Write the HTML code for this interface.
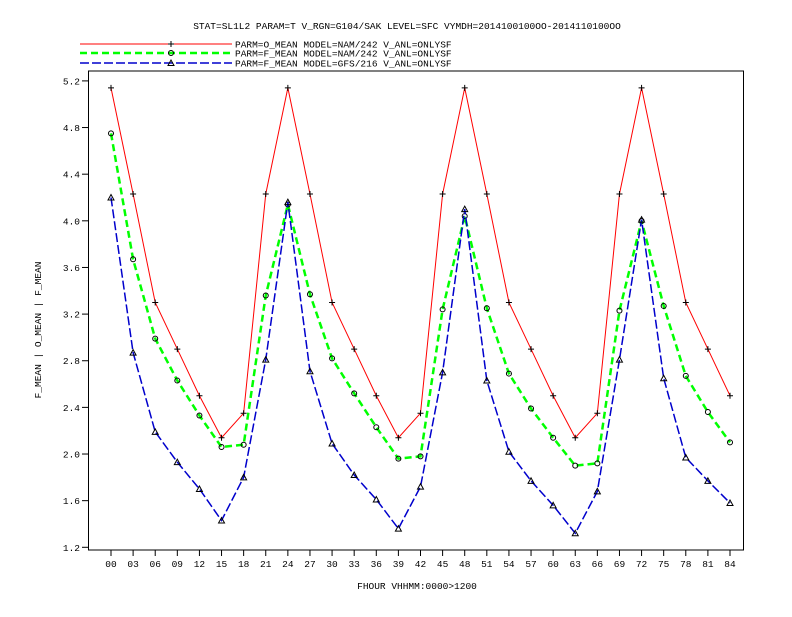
<!DOCTYPE html>
<html><head><meta charset="utf-8"><style>
body{margin:0;background:#fff}
text{font-family:"Liberation Mono",monospace;fill:#000}
</style></head><body>
<svg id="chart" width="792" height="612" xmlns="http://www.w3.org/2000/svg">
<text x="407" y="29" font-size="9.5" text-anchor="middle">STAT=SL1L2 PARAM=T V_RGN=G104/SAK LEVEL=SFC VYMDH=2014100100OO-2014110100OO</text>
<g id="legend"></g>
<rect x="88.5" y="71" width="655" height="479" fill="none" stroke="#000" stroke-width="1"/>
<g id="axes"></g><g id="series"></g>
<text transform="translate(41,330) rotate(-90)" font-size="9.5" text-anchor="middle">F_MEAN | O_MEAN | F_MEAN</text>
<text x="417" y="589" font-size="9.5" text-anchor="middle">FHOUR VHHMM:0000&gt;1200</text>
</svg>
<script>
const categories=["00","03","06","09","12","15","18","21","24","27","30","33","36","39","42","45","48","51","54","57","60","63","66","69","72","75","78","81","84"];
const oMeanNam=[5.14,4.23,3.30,2.90,2.50,2.14,2.35,4.23,5.14,4.23,3.30,2.90,2.50,2.14,2.35,4.23,5.14,4.23,3.30,2.90,2.50,2.14,2.35,4.23,5.14,4.23,3.30,2.90,2.50];
const fMeanNam=[4.75,3.67,2.99,2.63,2.33,2.06,2.08,3.36,4.14,3.37,2.82,2.52,2.23,1.96,1.98,3.24,4.04,3.25,2.69,2.39,2.14,1.90,1.92,3.23,4.00,3.27,2.67,2.36,2.10];
const fMeanGfs=[4.20,2.87,2.19,1.93,1.70,1.43,1.80,2.81,4.16,2.71,2.09,1.82,1.61,1.36,1.72,2.70,4.10,2.63,2.02,1.77,1.56,1.32,1.68,2.81,4.01,2.65,1.97,1.77,1.58];
const yTicks=[1.2,1.6,2.0,2.4,2.8,3.2,3.6,4.0,4.4,4.8,5.2];
const legendLabels=["PARM=O_MEAN MODEL=NAM/242 V_ANL=ONLYSF","PARM=F_MEAN MODEL=NAM/242 V_ANL=ONLYSF","PARM=F_MEAN MODEL=GFS/216 V_ANL=ONLYSF"];
const NS="http://www.w3.org/2000/svg";
const xs=i=>111+i*(619/28);
const ys=v=>547.3-(v-1.2)*116.6;
function mk(t,a,p){const e=document.createElementNS(NS,t);for(const k in a)e.setAttribute(k,a[k]);p.appendChild(e);return e;}
const axes=document.getElementById('axes');
yTicks.forEach(v=>{
 const l=mk('line',{x1:82,x2:88.5,y1:ys(v),y2:ys(v),stroke:'#000'},axes);
 
 
 const t=mk('text',{x:80,y:ys(v)+3.5,'font-size':9.5,'text-anchor':'end'},axes);
 
 
 t.textContent=v.toFixed(1);
});
categories.forEach((c,i)=>{
 const l=mk('line',{x1:xs(i),x2:xs(i),y1:550,y2:556,stroke:'#000'},axes);
 
 
 const t=mk('text',{x:xs(i),y:567,'font-size':9.5,'text-anchor':'middle'},axes);
 
 
 t.textContent=c;
});
const styles=[{c:'#ff0000',w:1,d:'',m:'plus',n:'o-mean-nam-line'},{c:'#00ff00',w:2.5,d:'7,4',m:'circle',n:'f-mean-nam-line'},{c:'#0000cc',w:1.5,d:'9,3',m:'tri',n:'f-mean-gfs-line'}];
const data=[oMeanNam,fMeanNam,fMeanGfs];
const sg=document.getElementById('series');
function marker(kind,x,y,g){
 let e;
 if(kind==='plus')e=mk('path',{d:`M${x-3},${y}h6M${x},${y-3}v6`,stroke:'#000',fill:'none'},g);
 else if(kind==='circle')e=mk('circle',{cx:x,cy:y,r:2.5,stroke:'#000',fill:'none'},g);
 else e=mk('path',{d:`M${x},${y-3}L${x+3},${y+2.5}L${x-3},${y+2.5}Z`,stroke:'#000',fill:'none'},g);
 
 
}
data.forEach((arr,s)=>{
 const st=styles[s];
 const p=mk('polyline',{points:arr.map((v,i)=>xs(i)+','+ys(v)).join(' '),fill:'none',stroke:st.c,'stroke-width':st.w,'stroke-dasharray':st.d},sg);
 
 
 arr.forEach((v,i)=>marker(st.m,xs(i),ys(v),sg));
});
const lg=document.getElementById('legend');
const ly=[44,53,63];
legendLabels.forEach((lab,s)=>{
 const st=styles[s];
 const l=mk('line',{x1:80,x2:232,y1:ly[s],y2:ly[s],stroke:st.c,'stroke-width':st.w,'stroke-dasharray':st.d},lg);
 
 
 marker(st.m,171,ly[s],lg);
 const t=mk('text',{x:235,y:ly[s]+3.5,'font-size':9.5},lg);
 
 
 t.textContent=lab;
});
</script>
</body></html>
